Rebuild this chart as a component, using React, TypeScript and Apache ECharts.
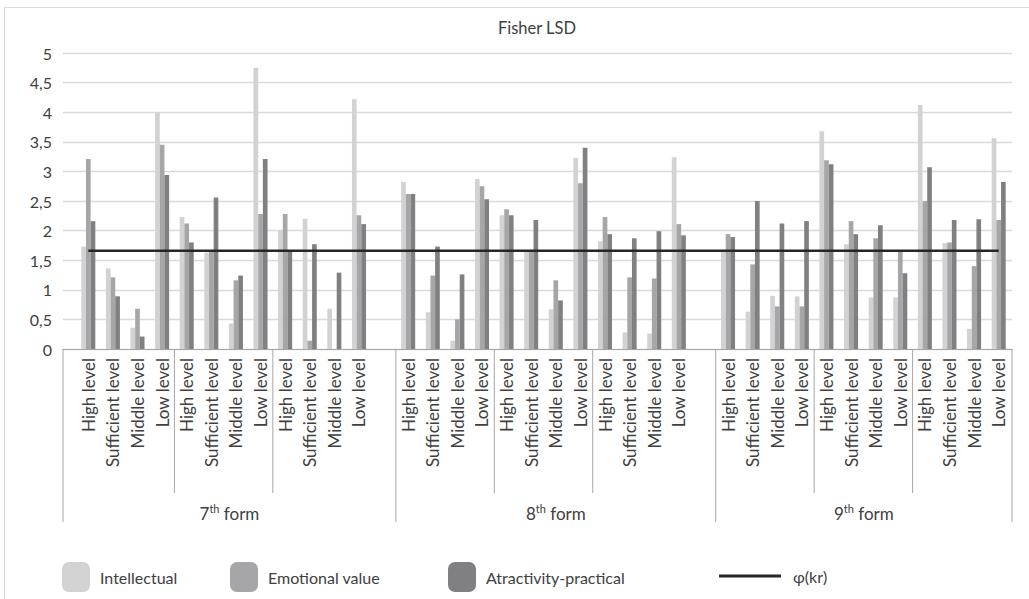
import React, { useEffect, useRef } from "react";
import * as echarts from "echarts";

const TITLE = "Fisher LSD";
const LEVELS = ["High level", "Sufficient level", "Middle level", "Low level"];
const FORMS = ["7th form", "8th form", "9th form"];
const GROUPS_PER_FORM = 3;
const Y_TICKS = [0, 0.5, 1, 1.5, 2, 2.5, 3, 3.5, 4, 4.5, 5];

// values per form: 3 groups x 4 levels
const intellectual = [
  1.73, 1.36, 0.36, 4.0, 2.23, 1.63, 0.43, 4.75, 2.0, 2.2, 0.68, 4.22,
  2.82, 0.62, 0.14, 2.87, 2.26, 1.64, 0.67, 3.23, 1.82, 0.28, 0.26, 3.24,
  1.65, 0.63, 0.9, 0.89, 3.68, 1.77, 0.87, 0.87, 4.12, 1.79, 0.34, 3.56,
];
const emotional = [
  3.21, 1.21, 0.68, 3.45, 2.12, 1.65, 1.16, 2.28, 2.28, 0.14, 0, 2.26,
  2.62, 1.24, 0.5, 2.75, 2.36, 1.65, 1.16, 2.8, 2.23, 1.21, 1.19, 2.11,
  1.94, 1.43, 0.72, 0.72, 3.19, 2.16, 1.87, 1.65, 2.5, 1.8, 1.4, 2.18,
];
const attractivity = [
  2.16, 0.89, 0.21, 2.94, 1.8, 2.56, 1.24, 3.21, 1.66, 1.77, 1.29, 2.11,
  2.62, 1.73, 1.26, 2.53, 2.26, 2.18, 0.82, 3.4, 1.94, 1.87, 1.99, 1.92,
  1.89, 2.5, 2.12, 2.16, 3.12, 1.94, 2.09, 1.28, 3.07, 2.18, 2.19, 2.82,
];
const PHI_KR = 1.66;

const SERIES_NAMES = ["Intellectual", "Emotional value", "Atractivity-practical", "φ(kr)"];
const COLORS = ["#d2d2d3", "#a6a6a8", "#808083", "#262626"];
const FONT = "Lato";
const TEXT_COLOR = "#404040";
const DIV_COLOR = "#a6a6a6";

const PER_FORM = GROUPS_PER_FORM * LEVELS.length;

// build slots with one blank slot between forms
const categories: string[] = [];
FORMS.forEach((_, fi) => {
  if (fi > 0) categories.push("");
  for (let g = 0; g < GROUPS_PER_FORM; g++) LEVELS.forEach((l) => categories.push(l));
});
function withGaps(vals: number[]) {
  const out: (number | null)[] = [];
  FORMS.forEach((_, fi) => {
    if (fi > 0) out.push(null);
    out.push(...vals.slice(fi * PER_FORM, fi * PER_FORM + PER_FORM));
  });
  return out;
}

export default function App() {
  const ref = useRef<HTMLDivElement>(null);
  useEffect(() => {
    if (!ref.current) return;
    const chart = echarts.init(ref.current, undefined, { renderer: "svg" });
    const labelStyle = { color: TEXT_COLOR, fontFamily: FONT, fontSize: 17 };
    const legendText = { color: TEXT_COLOR, fontFamily: FONT, fontSize: 16 };
    const legendBase = {
      orient: "horizontal",
      top: 562,
      padding: 0,
      itemWidth: 28,
      itemHeight: 30,
      textStyle: { ...legendText, padding: [0, 0, 0, 5] },
    };
    chart.setOption({
      animation: false,
      backgroundColor: "#ffffff",
      title: {
        text: TITLE,
        left: 537,
        top: 19,
        padding: 0,
        textAlign: "center",
        textStyle: { color: TEXT_COLOR, fontFamily: FONT, fontSize: 16.5, fontWeight: "normal" },
      },
      legend: [
        { ...legendBase, left: 62, data: [SERIES_NAMES[0]] },
        { ...legendBase, left: 230, data: [SERIES_NAMES[1]] },
        { ...legendBase, left: 448, data: [SERIES_NAMES[2]] },
        {
          ...legendBase,
          left: 719,
          top: 568,
          itemWidth: 62,
          itemHeight: 3,
          textStyle: { ...legendText, padding: [0, 0, 0, 7] },
          data: [{ name: SERIES_NAMES[3], icon: "rect", itemStyle: { color: COLORS[3] } }],
        },
      ],
      grid: [
        { left: 63, right: 17, top: 53, bottom: 250 },
        { left: 76, right: 18, top: 53, bottom: 250 },
      ],
      xAxis: [
        {
          type: "category",
          gridIndex: 0,
          data: [""],
          axisLine: { show: true, lineStyle: { color: DIV_COLOR, width: 1 } },
          axisTick: { show: false },
          axisLabel: { show: false },
        },
        {
          type: "category",
          gridIndex: 1,
          data: categories,
          axisLine: { show: false },
          axisTick: { show: false },
          axisLabel: { ...labelStyle, rotate: 90, margin: 9, interval: 0 },
        },
      ],
      yAxis: [
        {
          type: "value",
          gridIndex: 0,
          min: 0,
          max: 5,
          interval: 0.5,
          axisLine: { show: false },
          axisTick: { show: false },
          axisLabel: {
            color: TEXT_COLOR,
            fontFamily: FONT,
            fontSize: 16,
            margin: 11,
            formatter: (v: number) => (Y_TICKS.includes(v) ? String(v).replace(".", ",") : ""),
          },
          splitLine: { lineStyle: { color: "#d9d9d9", width: 1.3 } },
        },
        {
          type: "value",
          gridIndex: 1,
          min: 0,
          max: 5,
          interval: 0.5,
          show: false,
          splitLine: { show: false },
        },
      ],
      series: [
        ...[intellectual, emotional, attractivity].map((vals, i) => ({
          name: SERIES_NAMES[i],
          type: "bar",
          xAxisIndex: 1,
          yAxisIndex: 1,
          data: withGaps(vals),
          barGap: "0%",
          barCategoryGap: "43%",
          itemStyle: { color: COLORS[i] },
        })),
        {
          name: SERIES_NAMES[3],
          type: "line",
          xAxisIndex: 1,
          yAxisIndex: 1,
          data: categories.map(() => PHI_KR),
          symbol: "none",
          z: 5,
          lineStyle: { color: COLORS[3], width: 2.6 },
          itemStyle: { color: COLORS[3] },
        },
      ],
    });

    // dividers and form labels computed from the axis scale
    const px = (i: number) => chart.convertToPixel({ xAxisIndex: 1 }, i) as number;
    const w = px(1) - px(0);
    const bound = (k: number) => px(0) + (k - 0.5) * w;
    const yAxisPx = chart.convertToPixel({ yAxisIndex: 0 }, 0) as number;
    const gridLeft = 63;
    const gridRight = 1029 - 17;
    const formBounds: number[] = [gridLeft];
    for (let f = 1; f < FORMS.length; f++) formBounds.push(bound(f * (PER_FORM + 1)));
    formBounds.push(gridRight);
    const elements: any[] = [];
    formBounds.forEach((x) => {
      elements.push({
        type: "line",
        shape: { x1: x, y1: yAxisPx, x2: x, y2: yAxisPx + 173 },
        style: { stroke: DIV_COLOR, lineWidth: 1 },
      });
    });
    FORMS.forEach((form, f) => {
      const s0 = f * (PER_FORM + 1);
      for (let g = 1; g < GROUPS_PER_FORM; g++) {
        const x = bound(s0 + g * LEVELS.length);
        elements.push({
          type: "line",
          shape: { x1: x, y1: yAxisPx, x2: x, y2: yAxisPx + 144 },
          style: { stroke: DIV_COLOR, lineWidth: 1 },
        });
      }
      const m = form.match(/^(\d+)(th)(.*)$/);
      const text = m ? `{n|${m[1]}}{s|${m[2]}}{n|${m[3]}}` : form;
      elements.push({
        type: "text",
        x: (formBounds[f] + formBounds[f + 1]) / 2,
        y: yAxisPx + 164,
        style: {
          text,
          align: "center",
          verticalAlign: "middle",
          fill: TEXT_COLOR,
          font: `17px ${FONT}`,
          rich: {
            n: { fontSize: 17, fontFamily: FONT, fill: TEXT_COLOR, lineHeight: 20 },
            s: { fontSize: 11, fontFamily: FONT, fill: TEXT_COLOR, lineHeight: 11, verticalAlign: "top" },
          },
        },
      });
    });
    elements.push({
      type: "rect",
      shape: { x: 4.5, y: 7.5, width: 1040, height: 620 },
      style: { fill: "none", stroke: "#d9d9d9", lineWidth: 1 },
      silent: true,
    });
    chart.setOption({ graphic: { elements } });

    return () => chart.dispose();
  }, []);
  return (
    <div
      ref={ref}
      style={{ position: "fixed", left: 0, top: 0, width: 1029, height: 599, background: "#fff" }}
    />
  );
}
